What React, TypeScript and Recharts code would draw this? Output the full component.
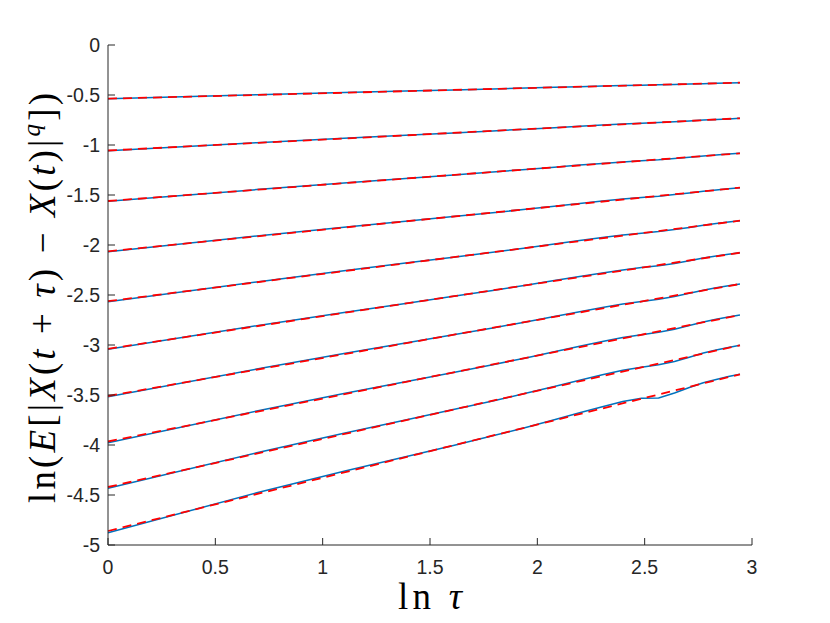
import React from "react";
import { LineChart, Line, XAxis, YAxis } from "recharts";

// ln(tau) for tau = 1..19
const lnTau = [0, 0.693, 1.099, 1.386, 1.609, 1.792, 1.946, 2.079, 2.197, 2.303, 2.398, 2.485, 2.565, 2.639, 2.708, 2.773, 2.833, 2.89, 2.944];

const q01 = [-0.538, -0.498, -0.476, -0.461, -0.45, -0.44, -0.431, -0.423, -0.417, -0.411, -0.406, -0.402, -0.398, -0.394, -0.39, -0.387, -0.383, -0.38, -0.377];
const q02 = [-1.057, -0.977, -0.933, -0.902, -0.879, -0.859, -0.842, -0.827, -0.813, -0.801, -0.791, -0.783, -0.776, -0.767, -0.759, -0.751, -0.745, -0.739, -0.733];
const q03 = [-1.563, -1.446, -1.379, -1.334, -1.299, -1.27, -1.245, -1.222, -1.201, -1.184, -1.169, -1.157, -1.148, -1.135, -1.122, -1.11, -1.1, -1.091, -1.083];
const q04 = [-2.067, -1.91, -1.822, -1.762, -1.716, -1.677, -1.643, -1.612, -1.584, -1.561, -1.541, -1.525, -1.512, -1.496, -1.479, -1.463, -1.45, -1.438, -1.427];
const q05 = [-2.567, -2.369, -2.257, -2.181, -2.122, -2.073, -2.03, -1.991, -1.956, -1.926, -1.901, -1.882, -1.866, -1.846, -1.824, -1.802, -1.786, -1.77, -1.757];
const q06 = [-3.043, -2.807, -2.674, -2.584, -2.513, -2.454, -2.403, -2.356, -2.315, -2.279, -2.249, -2.226, -2.207, -2.184, -2.157, -2.131, -2.111, -2.093, -2.077];
const q07 = [-3.517, -3.24, -3.086, -2.981, -2.898, -2.829, -2.77, -2.716, -2.667, -2.625, -2.59, -2.565, -2.543, -2.515, -2.483, -2.452, -2.428, -2.408, -2.39];
const q08 = [-3.977, -3.66, -3.486, -3.367, -3.274, -3.197, -3.129, -3.068, -3.012, -2.964, -2.925, -2.897, -2.873, -2.842, -2.805, -2.769, -2.743, -2.719, -2.7];
const q09 = [-4.433, -4.078, -3.882, -3.75, -3.646, -3.56, -3.483, -3.414, -3.352, -3.298, -3.253, -3.222, -3.198, -3.165, -3.122, -3.08, -3.05, -3.024, -3.003];
const q10 = [-4.877, -4.478, -4.263, -4.118, -4.004, -3.908, -3.824, -3.748, -3.678, -3.617, -3.566, -3.532, -3.53, -3.48, -3.425, -3.378, -3.344, -3.316, -3.293];

const empirical = [q01, q02, q03, q04, q05, q06, q07, q08, q09, q10];

// linear fits: value at ln(tau)=0 and at ln(tau)=2.944
const fitX = [0, 2.944];
const fitStart = [-0.537, -1.055, -1.56, -2.063, -2.562, -3.038, -3.51, -3.965, -4.42, -4.86];
const fitEnd = [-0.377, -0.733, -1.083, -1.427, -1.757, -2.077, -2.39, -2.7, -3.003, -3.293];

const xTicks = [0, 0.5, 1, 1.5, 2, 2.5, 3];
const yTicks = [-5, -4.5, -4, -3.5, -3, -2.5, -2, -1.5, -1, -0.5, 0];

const AXIS = "#262626";
const TICK_FONT = "'Liberation Sans', Arial, sans-serif";
const LABEL_FONT = "'Liberation Serif', 'Times New Roman', serif";

const XTick = (props: any) => {
  const { x, y, payload } = props;
  return (
    <g>
      <line x1={x} y1={y} x2={x} y2={y - 7} stroke={AXIS} strokeWidth={1} />
      <text x={x} y={y + 22} textAnchor="middle" dominantBaseline="central" style={{ fontFamily: TICK_FONT, fontSize: "19.5px" }} fill={AXIS}>
        {String(payload.value)}
      </text>
    </g>
  );
};

const YTick = (props: any) => {
  const { x, y, payload } = props;
  return (
    <g>
      <line x1={x} y1={y} x2={x + 7} y2={y} stroke={AXIS} strokeWidth={1} />
      <text x={x - 8} y={y} textAnchor="end" dominantBaseline="central" style={{ fontFamily: TICK_FONT, fontSize: "19.5px" }} fill={AXIS}>
        {String(payload.value)}
      </text>
    </g>
  );
};

export default function App() {
  const blueSeries = empirical.map((vals) => vals.map((v, i) => ({ x: lnTau[i], y: v })));
  const redSeries = fitStart.map((s, i) => [
    { x: fitX[0], y: s },
    { x: fitX[1], y: fitEnd[i] },
  ]);
  return (
    <div style={{ position: "absolute", left: 0, top: 0, width: 830, height: 623, background: "#fff" }}>
      <LineChart width={830} height={623} margin={{ top: 45, right: 78, bottom: 0, left: 0 }}>
        <XAxis
          dataKey="x"
          type="number"
          domain={[0, 3]}
          ticks={xTicks}
          interval={0}
          tickSize={0}
          tickMargin={0}
          height={78}
          stroke={AXIS}
          tick={<XTick />}
          allowDuplicatedCategory={false}
        />
        <YAxis
          dataKey="y"
          type="number"
          domain={[-5, 0]}
          ticks={yTicks}
          interval={0}
          tickSize={0}
          tickMargin={0}
          width={108}
          stroke={AXIS}
          tick={<YTick />}
        />
        {blueSeries.map((d, i) => (
          <Line
            key={"b" + i}
            data={d}
            dataKey="y"
            type="linear"
            stroke="#0072BD"
            strokeWidth={1.5}
            dot={false}
            activeDot={false}
            isAnimationActive={false}
          />
        ))}
        {redSeries.map((d, i) => (
          <Line
            key={"r" + i}
            data={d}
            dataKey="y"
            type="linear"
            stroke="#FF0000"
            strokeWidth={1.8}
            strokeDasharray="9 6"
            dot={false}
            activeDot={false}
            isAnimationActive={false}
          />
        ))}
      </LineChart>
      <svg width={830} height={623} style={{ position: "absolute", left: 0, top: 0, pointerEvents: "none" }}>
        <text
          x={55}
          y={298}
          transform="rotate(-90, 55, 298)"
          textAnchor="middle"
          fontFamily={LABEL_FONT}
          fontSize={37}
          textLength={410}
          lengthAdjust="spacing"
          fill="#000"
        >
          ln(<tspan fontStyle="italic">E</tspan>[|<tspan fontStyle="italic">X</tspan>(<tspan fontStyle="italic">t</tspan> + <tspan fontStyle="italic">τ</tspan>) − <tspan fontStyle="italic">X</tspan>(<tspan fontStyle="italic">t</tspan>)|<tspan fontStyle="italic" fontSize={25} dy={-15}>q</tspan><tspan dy={15}>])</tspan>
        </text>
        <text
          x={430}
          y={609}
          textAnchor="middle"
          fontFamily={LABEL_FONT}
          fontSize={37}
          textLength={64}
          lengthAdjust="spacing"
          fill="#000"
        >
          ln <tspan fontStyle="italic">τ</tspan>
        </text>
      </svg>
    </div>
  );
}
